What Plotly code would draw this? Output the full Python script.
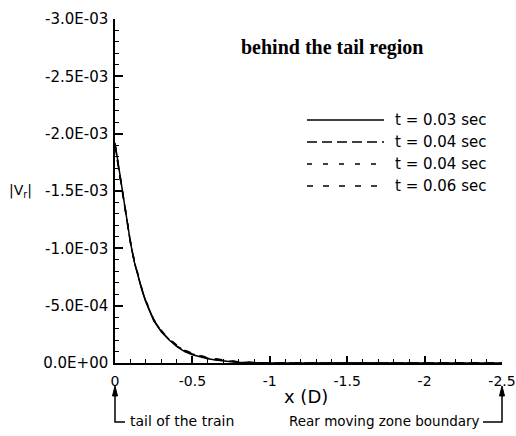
import plotly.graph_objects as go

# ---------------- data ----------------
x_pos = [0, -0.025, -0.05, -0.075, -0.1, -0.125, -0.15, -0.175, -0.2, -0.25, -0.3,
         -0.35, -0.4, -0.45, -0.5, -0.55, -0.6, -0.65, -0.7, -0.75, -0.8, -0.85,
         -0.9, -1.0, -1.5, -2.0, -2.5]

vr_t003 = [-1.92e-3, -1.70e-3, -1.50e-3, -1.26e-3, -1.05e-3, -0.88e-3, -0.75e-3,
           -0.63e-3, -0.53e-3, -0.37e-3, -0.27e-3, -0.20e-3, -0.142e-3, -0.100e-3,
           -0.072e-3, -0.052e-3, -0.037e-3, -0.026e-3, -0.017e-3, -0.011e-3,
           -0.006e-3, -0.003e-3, -0.0015e-3, 0, 0, 0, 0]
vr_t004a = [-1.90e-3, -1.69e-3, -1.49e-3, -1.25e-3, -1.05e-3, -0.88e-3, -0.75e-3,
            -0.635e-3, -0.535e-3, -0.375e-3, -0.275e-3, -0.205e-3, -0.148e-3,
            -0.106e-3, -0.078e-3, -0.057e-3, -0.041e-3, -0.029e-3, -0.020e-3,
            -0.013e-3, -0.008e-3, -0.004e-3, -0.002e-3, 0, 0, 0, 0]
vr_t004b = [-1.91e-3, -1.70e-3, -1.50e-3, -1.26e-3, -1.06e-3, -0.89e-3, -0.76e-3,
            -0.64e-3, -0.54e-3, -0.38e-3, -0.28e-3, -0.21e-3, -0.152e-3, -0.110e-3,
            -0.082e-3, -0.060e-3, -0.045e-3, -0.033e-3, -0.023e-3, -0.015e-3,
            -0.009e-3, -0.005e-3, -0.0025e-3, 0, 0, 0, 0]
vr_t006 = [-1.90e-3, -1.69e-3, -1.49e-3, -1.25e-3, -1.05e-3, -0.885e-3, -0.755e-3,
           -0.64e-3, -0.54e-3, -0.38e-3, -0.28e-3, -0.21e-3, -0.155e-3, -0.113e-3,
           -0.085e-3, -0.063e-3, -0.047e-3, -0.035e-3, -0.025e-3, -0.017e-3,
           -0.010e-3, -0.006e-3, -0.003e-3, 0, 0, 0, 0]

series_names = ["t = 0.03 sec", "t = 0.04 sec", "t = 0.04 sec", "t = 0.06 sec"]
series_values = [vr_t003, vr_t004a, vr_t004b, vr_t006]
series_dash = ["solid", "10px,5px", "5px,11px", "6px,10px"]

x_tickvals = [0, -0.5, -1, -1.5, -2, -2.5]
x_ticktext = ["0", "-0.5", "-1", "-1.5", "-2", "-2.5"]
y_tickvals = [0, -0.5e-3, -1.0e-3, -1.5e-3, -2.0e-3, -2.5e-3, -3.0e-3]
y_ticktext = ["0.0E+00", "-5.0E-04", "-1.0E-03", "-1.5E-03", "-2.0E-03",
              "-2.5E-03", "-3.0E-03"]

# ---------------- layout geometry (pixels) ----------------
W, H = 516, 436
ML, MR, MT, MB = 115, 14, 19, 73
PW, PH = W - ML - MR, H - MT - MB


def px_x(px):
    return (px - ML) / PW


def px_y(py):
    return (H - MB - py) / PH


FONT = "DejaVu Sans"

fig = go.Figure()
for name, vals, dash in zip(series_names, series_values, series_dash):
    fig.add_trace(go.Scatter(x=x_pos, y=vals, mode="lines", name=name,
                             line=dict(color="black", width=1.5, dash=dash),
                             showlegend=False))

annotations = []
shapes = []

# custom legend (long sample lines as in the reference)
legend_rows = [120, 142, 164, 186]
for name, dash, py in zip(series_names, series_dash, legend_rows):
    shapes.append(dict(type="line", xref="paper", yref="paper",
                       x0=px_x(307), x1=px_x(384), y0=px_y(py), y1=px_y(py),
                       line=dict(color="black", width=1.5, dash=dash)))
    annotations.append(dict(text=name, xref="paper", yref="paper",
                            x=px_x(393), y=px_y(py), xanchor="left", yanchor="middle",
                            showarrow=False, font=dict(family=FONT, size=15, color="black")))

# title inside plot
annotations.append(dict(text="<b>behind the tail region</b>", xref="paper", yref="paper",
                        x=px_x(332), y=px_y(47), xanchor="center", yanchor="middle",
                        showarrow=False,
                        font=dict(family="Liberation Serif", size=20, color="black")))
# axis titles
annotations.append(dict(text="x (D)", xref="paper", yref="paper",
                        x=px_x(306), y=px_y(396), xanchor="center", yanchor="middle",
                        showarrow=False, font=dict(family=FONT, size=18, color="black")))
annotations.append(dict(text="|V<sub>r</sub>|", xref="paper", yref="paper",
                        x=px_x(20), y=px_y(191), xanchor="center", yanchor="middle",
                        showarrow=False, font=dict(family=FONT, size=14, color="black")))
# bottom notes
annotations.append(dict(text="tail of the train", xref="paper", yref="paper",
                        x=px_x(128), y=px_y(421), xanchor="left", yanchor="middle",
                        showarrow=False, font=dict(family=FONT, size=14, color="black")))
annotations.append(dict(text="Rear moving zone boundary", xref="paper", yref="paper",
                        x=px_x(482), y=px_y(421), xanchor="right", yanchor="middle",
                        showarrow=False, font=dict(family=FONT, size=13.5, color="black")))

# L-shaped pointers with arrowheads
for xa, xb in [(ML, 125), (W - MR, 483)]:
    shapes.append(dict(type="path", xref="paper", yref="paper",
                       path=f"M {px_x(xa)},{px_y(394)} L {px_x(xa)},{px_y(422)} L {px_x(xb)},{px_y(422)}",
                       line=dict(color="black", width=1.5)))
    shapes.append(dict(type="path", xref="paper", yref="paper",
                       path=f"M {px_x(xa)},{px_y(386)} L {px_x(xa - 2.5)},{px_y(396)} L {px_x(xa + 2.5)},{px_y(396)} Z",
                       fillcolor="black", line=dict(color="black", width=1)))

fig.update_layout(
    width=W, height=H,
    margin=dict(l=ML, r=MR, t=MT, b=MB, pad=0),
    paper_bgcolor="white", plot_bgcolor="white",
    showlegend=False,
    font=dict(family=FONT, size=14, color="black"),
    annotations=annotations, shapes=shapes,
)
fig.update_xaxes(range=[0, -2.5], showgrid=False, zeroline=False, automargin=False,
                 showline=True, linecolor="black", linewidth=1.5,
                 tickmode="array", tickvals=x_tickvals, ticktext=x_ticktext,
                 ticks="inside", ticklen=7, tickwidth=1.5, tickcolor="black",
                 ticklabelstandoff=4,
                 tickfont=dict(family=FONT, size=14, color="black"),
                 minor=dict(tickmode="linear", tick0=0, dtick=0.1, ticks="inside",
                            ticklen=4, tickwidth=1, tickcolor="black"))
fig.update_yaxes(range=[0, -3.0e-3], showgrid=False, zeroline=False, automargin=False,
                 showline=True, linecolor="black", linewidth=1.5,
                 tickmode="array", tickvals=y_tickvals, ticktext=y_ticktext,
                 ticks="inside", ticklen=8, tickwidth=1.5, tickcolor="black",
                 ticklabelstandoff=2,
                 tickfont=dict(family=FONT, size=15, color="black"),
                 minor=dict(tickmode="linear", tick0=0, dtick=1e-4, ticks="inside",
                            ticklen=4, tickwidth=1, tickcolor="black"))

fig.write_html("out.html")
